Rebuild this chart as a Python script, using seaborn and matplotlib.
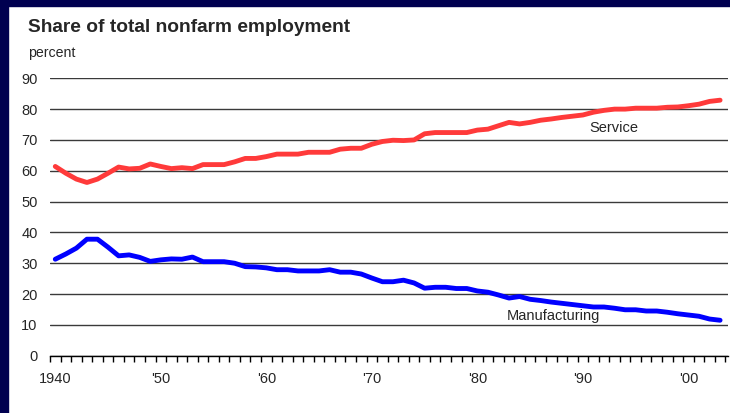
import matplotlib
matplotlib.use("Agg")
import matplotlib.pyplot as plt
import seaborn as sns
import pandas as pd
from matplotlib.patches import Rectangle

years = list(range(1940, 2004))
service = [61.4, 59.2, 57.3, 56.2, 57.3, 59.2, 61.2, 60.6, 60.8, 62.2,
           61.4, 60.7, 61.0, 60.7, 62.0, 62.0, 62.0, 62.9, 64.0, 64.0,
           64.6, 65.4, 65.4, 65.4, 66.0, 66.0, 66.0, 67.0, 67.3, 67.3,
           68.6, 69.5, 69.9, 69.8, 70.0, 72.0, 72.4, 72.4, 72.4, 72.4,
           73.2, 73.5, 74.6, 75.7, 75.2, 75.7, 76.4, 76.8, 77.3, 77.7,
           78.1, 79.0, 79.6, 80.0, 80.0, 80.3, 80.3, 80.3, 80.6, 80.7,
           81.1, 81.6, 82.5, 82.9]
manufacturing = [31.3, 33.0, 34.9, 37.8, 37.8, 35.2, 32.4, 32.7, 31.9, 30.6,
                 31.1, 31.4, 31.3, 32.0, 30.5, 30.5, 30.5, 30.0, 28.9, 28.8,
                 28.5, 27.9, 27.9, 27.5, 27.5, 27.5, 27.9, 27.1, 27.1, 26.5,
                 25.2, 24.0, 24.0, 24.5, 23.6, 21.9, 22.2, 22.2, 21.8, 21.8,
                 21.0, 20.6, 19.7, 18.7, 19.2, 18.3, 17.9, 17.4, 17.0, 16.6,
                 16.2, 15.8, 15.8, 15.4, 14.9, 14.9, 14.5, 14.5, 14.1, 13.6,
                 13.2, 12.8, 11.9, 11.5]
decade_years = [1940, 1950, 1960, 1970, 1980, 1990, 2000]
decade_labels = ["1940", "'50", "'60", "'70", "'80", "'90", "'00"]
y_ticks = list(range(0, 100, 10))

df = pd.DataFrame({
    "year": years * 2,
    "share": service + manufacturing,
    "sector": ["Service"] * len(years) + ["Manufacturing"] * len(years),
})

sns.set_theme(style="white")
plt.rcParams["font.family"] = ["Liberation Sans", "DejaVu Sans"]

W, H = 730, 413
fig = plt.figure(figsize=(W / 100, H / 100), dpi=100)
fig.patch.set_facecolor("white")

# navy slide frame (top and left)
navy = "#000050"
fig.patches.append(Rectangle((0, 0), 8 / W, 1, transform=fig.transFigure,
                             color=navy, zorder=0))
fig.patches.append(Rectangle((0, 1 - 6 / H), 1, 6 / H, transform=fig.transFigure,
                             color=navy, zorder=0))

ax = fig.add_axes([50 / W, 1 - 355.7 / H, 678 / W, (355.7 - 78.3) / H])
ax.set_facecolor("white")

sns.lineplot(data=df, x="year", y="share", hue="sector",
             palette={"Service": "#ff3a3a", "Manufacturing": "#0000ff"},
             linewidth=3.5, legend=False, ax=ax)

ax.set_xlim(1939.5, 2003.75)
ax.set_ylim(0, 90)
ax.set_yticks(y_ticks)
ax.set_yticklabels([str(v) for v in y_ticks], fontsize=10.5)
ax.yaxis.grid(True, color="#3a3a3a", linewidth=1)
ax.set_axisbelow(True)

ax.set_xticks(decade_years)
ax.set_xticklabels(decade_labels, fontsize=10.5)
ax.set_xticks([y - 0.5 for y in years] + [years[-1] + 0.5], minor=True)
ax.tick_params(axis="x", which="major", length=0, pad=12)
ax.tick_params(axis="x", which="minor", length=4.5, width=1, color="black",
               direction="out", bottom=True)
ax.tick_params(axis="y", length=0, pad=9)

for side in ["top", "right", "left"]:
    ax.spines[side].set_visible(False)
ax.spines["bottom"].set_color("black")
ax.spines["bottom"].set_linewidth(1)
ax.set_xlabel("")
ax.set_ylabel("")

ax.text(1990.6, 73.9, "Service", fontsize=10.5, va="center", ha="left")
ax.text(1982.8, 12.9, "Manufacturing", fontsize=10.5, va="center", ha="left")

fig.text(28 / W, 1 - 27 / H, "Share of total nonfarm employment",
         fontsize=13.8, fontweight="bold", va="center", ha="left")
fig.text(28 / W, 1 - 53 / H, "percent", fontsize=10.2, va="center", ha="left")

fig.savefig("out.png", dpi=100, facecolor=fig.get_facecolor())
